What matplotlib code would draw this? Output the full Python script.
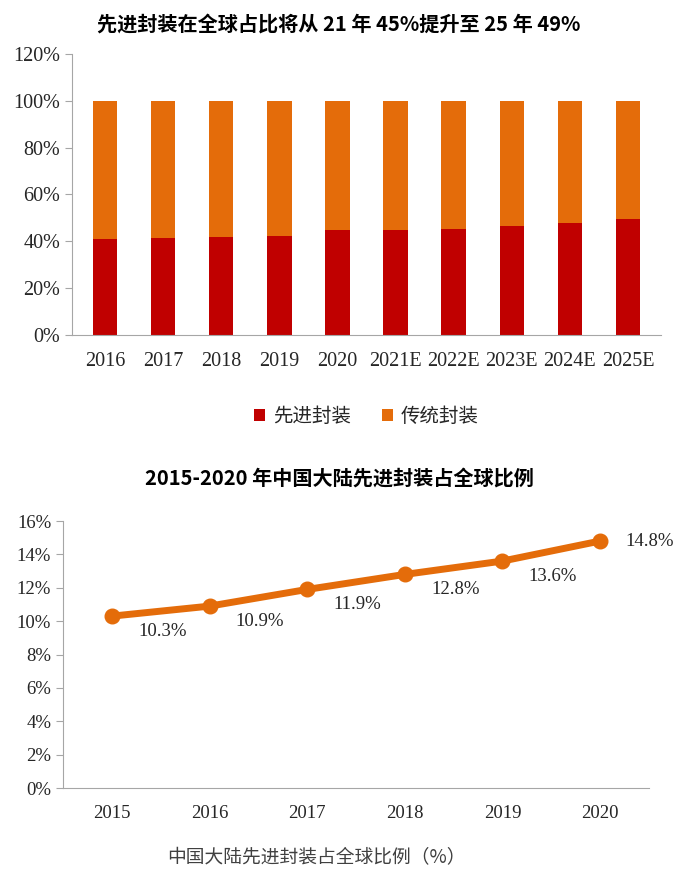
import matplotlib.pyplot as plt
import numpy as np
from matplotlib.ticker import FuncFormatter

plt.rcParams['font.family'] = ['Liberation Serif', 'Noto Sans CJK SC']

# top chart data
years_top = ['2016', '2017', '2018', '2019', '2020', '2021E', '2022E', '2023E', '2024E', '2025E']
advanced = [41.1, 41.2, 42.0, 42.4, 44.7, 44.9, 45.4, 46.6, 47.7, 49.3]
traditional = [100 - v for v in advanced]

# bottom chart data
years_bot = ['2015', '2016', '2017', '2018', '2019', '2020']
china_share = [10.3, 10.9, 11.9, 12.8, 13.6, 14.8]

red = '#C00000'
orange = '#E46C0A'
grey = '#A6A6A6'
txt = '#262626'
cjk_bold = ['Noto Sans CJK SC', 'DejaVu Sans']

fig = plt.figure(figsize=(6.78, 8.72), dpi=100)

# ---- top: stacked bars
ax1 = fig.add_axes([0.106, 0.616, 0.869, 0.322])
x = np.arange(len(years_top))
ax1.bar(x, advanced, width=0.42, color=red, label='先进封装')
ax1.bar(x, traditional, width=0.42, bottom=advanced, color=orange, label='传统封装')
ax1.set_xlim(-0.57, len(years_top) - 0.43)
ax1.set_ylim(0, 120)
ax1.set_yticks(np.arange(0, 121, 20))
ax1.yaxis.set_major_formatter(FuncFormatter(lambda v, p: '%d%%' % v))
ax1.set_xticks(x)
ax1.set_xticklabels(years_top)
for s in ['top', 'right']:
    ax1.spines[s].set_visible(False)
for s in ['left', 'bottom']:
    ax1.spines[s].set_color(grey)
ax1.tick_params(axis='y', colors=grey, length=5, labelcolor=txt, labelsize=14.5)
ax1.tick_params(axis='x', length=0, labelcolor=txt, labelsize=14.5, pad=12)
fig.text(0.5, 0.973, '先进封装在全球占比将从 21 年 45%提升至 25 年 49%',
         ha='center', va='center', fontsize=14.5, fontweight='bold', family=cjk_bold)
leg = ax1.legend(loc='upper center', bbox_to_anchor=(0.5, -0.19), ncol=2, frameon=False,
                 handlelength=0.55, handleheight=0.55, handletextpad=0.4, columnspacing=1.6,
                 prop={'family': cjk_bold, 'size': 14, 'weight': 'light'})
for t in leg.get_texts():
    t.set_color(txt)

# ---- bottom: line
ax2 = fig.add_axes([0.093, 0.0963, 0.864, 0.3062])
xb = np.arange(len(years_bot))
ax2.plot(xb, [v / 100 for v in china_share], color=orange, lw=5, marker='o', ms=10.5)
for i, v in enumerate(china_share):
    if i == len(china_share) - 1:
        ax2.annotate('%.1f%%' % v, (i, v / 100), xytext=(18, 0), textcoords='offset points',
                     ha='left', va='center', fontsize=13.5, color=txt)
    else:
        ax2.annotate('%.1f%%' % v, (i, v / 100), xytext=(19, -11), textcoords='offset points',
                     ha='left', va='center', fontsize=13.5, color=txt)
ax2.set_xlim(-0.5, len(years_bot) - 0.5)
ax2.set_ylim(0, 0.16)
ax2.set_yticks(np.arange(0, 0.161, 0.02))
ax2.yaxis.set_major_formatter(FuncFormatter(lambda v, p: '%d%%' % round(v * 100)))
ax2.set_xticks(xb)
ax2.set_xticklabels(years_bot)
for s in ['top', 'right']:
    ax2.spines[s].set_visible(False)
for s in ['left', 'bottom']:
    ax2.spines[s].set_color(grey)
ax2.tick_params(axis='y', colors=grey, length=5, labelcolor=txt, labelsize=13.5)
ax2.tick_params(axis='x', length=0, labelcolor=txt, labelsize=13.5, pad=12)
fig.text(0.5, 0.452, '2015-2020 年中国大陆先进封装占全球比例',
         ha='center', va='center', fontsize=14.5, fontweight='bold', family=cjk_bold)
fig.text(0.466, 0.016, '中国大陆先进封装占全球比例（%）', ha='center', va='center',
         fontsize=13.5, color='#404040', family=cjk_bold, fontweight='light')

fig.savefig('out.png', dpi=100)
